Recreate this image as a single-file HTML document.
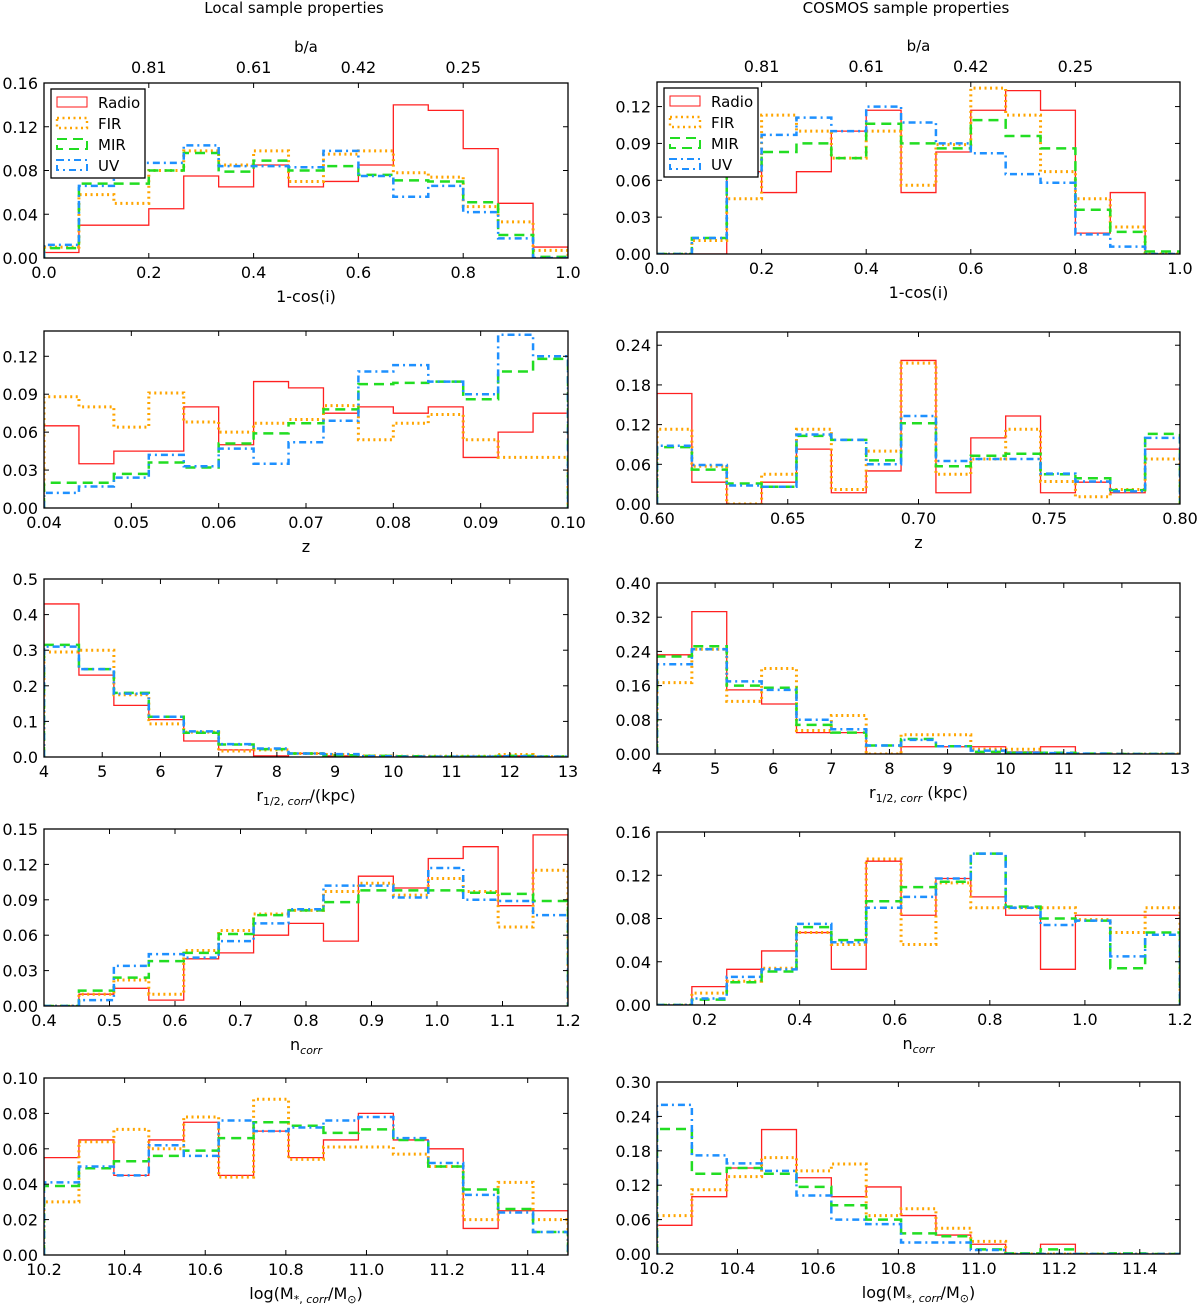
<!DOCTYPE html>
<html><head><meta charset="utf-8">
<style>
html,body{margin:0;padding:0;background:#fff;}
svg{display:block;font-family:"DejaVu Sans","Liberation Sans",sans-serif;}
</style></head>
<body>
<svg id="fig" width="1200" height="1305" viewBox="0 0 1200 1305" xmlns="http://www.w3.org/2000/svg">
<text x="294" y="13" font-size="15" text-anchor="middle">Local sample properties</text>
<text x="906" y="13" font-size="15" text-anchor="middle">COSMOS sample properties</text>
</svg>
<script>
// ---- data (15 bins each) ----
const seriesNames = ["Radio","FIR","MIR","UV"];
// Row 1: 1-cos(i)
const incL_radio = [0.005,0.03,0.03,0.045,0.075,0.065,0.085,0.065,0.07,0.085,0.14,0.135,0.10,0.05,0.01];
const incL_fir   = [0.01,0.058,0.05,0.08,0.098,0.085,0.098,0.07,0.095,0.098,0.078,0.074,0.047,0.033,0.007];
const incL_mir   = [0.009,0.068,0.068,0.08,0.096,0.079,0.089,0.08,0.084,0.076,0.071,0.07,0.051,0.021,0.001];
const incL_uv    = [0.012,0.066,0.087,0.087,0.103,0.084,0.084,0.083,0.098,0.075,0.056,0.066,0.042,0.018,0.0];
const incR_radio = [0,0,0.067,0.05,0.067,0.1,0.117,0.05,0.083,0.117,0.133,0.117,0.017,0.05,0];
const incR_fir   = [0,0.011,0.045,0.113,0.1,0.078,0.1,0.056,0.089,0.135,0.113,0.067,0.045,0.022,0];
const incR_mir   = [0,0.013,0.072,0.083,0.09,0.078,0.106,0.09,0.086,0.109,0.096,0.086,0.036,0.018,0.002];
const incR_uv    = [0,0.013,0.066,0.097,0.111,0.1,0.12,0.107,0.09,0.082,0.065,0.058,0.016,0.006,0.0];
// Row 2: z
const zL_radio = [0.065,0.035,0.045,0.045,0.08,0.05,0.1,0.095,0.075,0.08,0.075,0.08,0.04,0.06,0.075];
const zL_fir   = [0.088,0.08,0.064,0.091,0.068,0.06,0.067,0.07,0.081,0.054,0.067,0.074,0.054,0.04,0.04];
const zL_mir   = [0.02,0.02,0.027,0.036,0.032,0.051,0.059,0.067,0.078,0.098,0.099,0.1,0.086,0.108,0.118];
const zL_uv    = [0.012,0.017,0.024,0.042,0.033,0.047,0.035,0.052,0.069,0.108,0.113,0.1,0.09,0.137,0.12];
const zR_radio = [0.167,0.033,0,0.033,0.083,0.017,0.05,0.217,0.017,0.1,0.133,0.017,0.033,0.017,0.083];
const zR_fir   = [0.113,0.057,0,0.045,0.113,0.022,0.08,0.213,0.045,0.068,0.113,0.034,0.011,0.022,0.068];
const zR_mir   = [0.086,0.052,0.031,0.026,0.103,0.097,0.066,0.122,0.057,0.073,0.076,0.045,0.039,0.021,0.106];
const zR_uv    = [0.088,0.059,0.028,0.026,0.105,0.097,0.06,0.133,0.065,0.068,0.068,0.046,0.034,0.019,0.1];
// Row 3: r_1/2
const rL_radio = [0.43,0.23,0.145,0.105,0.045,0.02,0.003,0.01,0.003,0,0,0,0,0.003,0];
const rL_fir   = [0.295,0.3,0.175,0.093,0.07,0.017,0.02,0.01,0.007,0.003,0.002,0.002,0.002,0.007,0.001];
const rL_mir   = [0.315,0.247,0.18,0.113,0.068,0.035,0.022,0.01,0.005,0.003,0.002,0.001,0.001,0.003,0.001];
const rL_uv    = [0.31,0.247,0.178,0.113,0.072,0.036,0.024,0.01,0.008,0.002,0.001,0.001,0.001,0.002,0.001];
const rR_radio = [0.232,0.333,0.15,0.117,0.05,0.05,0,0.017,0.017,0.017,0.005,0.017,0,0,0];
const rR_fir   = [0.167,0.245,0.123,0.2,0.055,0.09,0,0.045,0.045,0.011,0.011,0,0,0,0];
const rR_mir   = [0.228,0.252,0.16,0.155,0.068,0.05,0.02,0.035,0.018,0.005,0.003,0.003,0.001,0,0];
const rR_uv    = [0.21,0.245,0.17,0.15,0.08,0.058,0.02,0.033,0.018,0.008,0.003,0.002,0.001,0,0];
// Row 4: n_corr
const nL_radio = [0,0.01,0.015,0.005,0.04,0.045,0.06,0.07,0.055,0.11,0.1,0.125,0.135,0.085,0.145];
const nL_fir   = [0,0.01,0.022,0.01,0.047,0.064,0.078,0.081,0.097,0.104,0.094,0.108,0.097,0.067,0.115];
const nL_mir   = [0,0.013,0.024,0.038,0.045,0.061,0.077,0.081,0.088,0.098,0.098,0.098,0.096,0.095,0.089];
const nL_uv    = [0,0.005,0.034,0.044,0.041,0.055,0.07,0.082,0.102,0.102,0.092,0.117,0.09,0.089,0.077];
const nR_radio = [0,0.017,0.033,0.05,0.067,0.033,0.133,0.083,0.117,0.1,0.083,0.033,0.083,0.083,0.083];
const nR_fir   = [0,0.011,0.022,0.034,0.067,0.056,0.135,0.056,0.113,0.09,0.09,0.09,0.079,0.067,0.09];
const nR_mir   = [0,0.005,0.021,0.031,0.072,0.06,0.096,0.109,0.114,0.14,0.091,0.08,0.078,0.034,0.067];
const nR_uv    = [0,0.006,0.026,0.033,0.075,0.058,0.09,0.1,0.117,0.14,0.09,0.074,0.078,0.045,0.065];
// Row 5: log M*
const mL_radio = [0.055,0.065,0.045,0.065,0.075,0.045,0.07,0.055,0.065,0.08,0.065,0.06,0.015,0.025,0.025];
const mL_fir   = [0.03,0.064,0.071,0.06,0.078,0.044,0.088,0.054,0.061,0.061,0.057,0.05,0.02,0.041,0.02];
const mL_mir   = [0.039,0.049,0.053,0.056,0.059,0.066,0.075,0.073,0.069,0.071,0.065,0.05,0.037,0.026,0.013];
const mL_uv    = [0.041,0.05,0.045,0.062,0.056,0.076,0.07,0.072,0.076,0.078,0.066,0.052,0.034,0.024,0.013];
const mR_radio = [0.05,0.1,0.15,0.217,0.133,0.1,0.117,0.067,0.033,0.017,0,0.017,0,0,0];
const mR_fir   = [0.067,0.112,0.135,0.168,0.145,0.157,0.067,0.079,0.045,0.022,0,0,0,0,0];
const mR_mir   = [0.218,0.14,0.15,0.14,0.117,0.085,0.06,0.036,0.031,0.008,0.001,0.008,0,0.001,0];
const mR_uv    = [0.26,0.172,0.158,0.145,0.102,0.06,0.052,0.02,0.02,0.007,0,0,0,0,0];
// tick labels
const topTickLabels = ["0.81","0.61","0.42","0.25"];
const topTickPos = [0.2,0.4,0.6,0.8];

const NS="http://www.w3.org/2000/svg";
const svg=document.getElementById('fig');
const styles=[
 {c:"#ff2020",w:1.3,d:"none"},
 {c:"#ffa500",w:3,d:"2,3.5"},
 {c:"#22dd22",w:2.5,d:"10,6"},
 {c:"#1e90ff",w:2.5,d:"7,4,2,4"}
];
function mk(tag,attrs,parent){const e=document.createElementNS(NS,tag);for(const k in attrs)e.setAttribute(k,attrs[k]);(parent||svg).appendChild(e);return e;}

const panels=[
 {id:"inclination-local",L:44,R:568,T:83,B:258,x0:0,x1:1,y1:0.16,ys:0.04,yd:2,xt:[0,0.2,0.4,0.6,0.8,1.0],xd:1,data:[incL_radio,incL_fir,incL_mir,incL_uv],legend:true,top:true,xl:"inc"},
 {id:"inclination-cosmos",L:657,R:1180,T:82,B:254,x0:0,x1:1,y1:0.14,ys:0.03,yd:2,xt:[0,0.2,0.4,0.6,0.8,1.0],xd:1,data:[incR_radio,incR_fir,incR_mir,incR_uv],legend:true,top:true,xl:"inc"},
 {id:"redshift-local",L:44,R:568,T:331,B:508,x0:0.04,x1:0.10,y1:0.14,ys:0.03,yd:2,xt:[0.04,0.05,0.06,0.07,0.08,0.09,0.10],xd:2,data:[zL_radio,zL_fir,zL_mir,zL_uv],xl:"z"},
 {id:"redshift-cosmos",L:657,R:1180,T:332,B:504,x0:0.6,x1:0.8,y1:0.26,ys:0.06,yd:2,xt:[0.6,0.65,0.7,0.75,0.8],xd:2,data:[zR_radio,zR_fir,zR_mir,zR_uv],xl:"z"},
 {id:"radius-local",L:44,R:568,T:579,B:757,x0:4,x1:13,y1:0.5,ys:0.1,yd:1,xt:[4,5,6,7,8,9,10,11,12,13],xd:0,data:[rL_radio,rL_fir,rL_mir,rL_uv],xl:"rL"},
 {id:"radius-cosmos",L:657,R:1180,T:583,B:754,x0:4,x1:13,y1:0.4,ys:0.08,yd:2,xt:[4,5,6,7,8,9,10,11,12,13],xd:0,data:[rR_radio,rR_fir,rR_mir,rR_uv],xl:"rR"},
 {id:"sersic-local",L:44,R:568,T:829,B:1006,x0:0.4,x1:1.2,y1:0.15,ys:0.03,yd:2,xt:[0.4,0.5,0.6,0.7,0.8,0.9,1.0,1.1,1.2],xd:1,data:[nL_radio,nL_fir,nL_mir,nL_uv],xl:"n"},
 {id:"sersic-cosmos",L:657,R:1180,T:832,B:1005,x0:0.1,x1:1.2,y1:0.16,ys:0.04,yd:2,xt:[0.2,0.4,0.6,0.8,1.0,1.2],xd:1,data:[nR_radio,nR_fir,nR_mir,nR_uv],xl:"n"},
 {id:"mass-local",L:44,R:568,T:1078,B:1255,x0:10.2,x1:11.5,y1:0.10,ys:0.02,yd:2,xt:[10.2,10.4,10.6,10.8,11.0,11.2,11.4],xd:1,data:[mL_radio,mL_fir,mL_mir,mL_uv],xl:"m"},
 {id:"mass-cosmos",L:657,R:1180,T:1082,B:1254,x0:10.2,x1:11.5,y1:0.30,ys:0.06,yd:2,xt:[10.2,10.4,10.6,10.8,11.0,11.2,11.4],xd:1,data:[mR_radio,mR_fir,mR_mir,mR_uv],xl:"m"}
];

panels.forEach((p,pi)=>{
 const g=mk('g',{});
 
 
 const sx=v=>p.L+(v-p.x0)/(p.x1-p.x0)*(p.R-p.L);
 const sy=v=>p.B-v/p.y1*(p.B-p.T);
 const cid='clip'+pi;
 const cp=mk('clipPath',{id:cid},g);mk('rect',{x:p.L,y:p.T,width:p.R-p.L,height:p.B-p.T},cp);
 // series
 p.data.forEach((arr,si)=>{
  const n=arr.length,w=(p.x1-p.x0)/n;
  let d="M"+sx(p.x0)+","+sy(0);
  arr.forEach((v,i)=>{d+=" L"+sx(p.x0+i*w)+","+sy(v)+" L"+sx(p.x0+(i+1)*w)+","+sy(v);});
  d+=" L"+sx(p.x1)+","+sy(0);
  const s=styles[si];
  const path=mk('path',{d:d,fill:"none",stroke:s.c,"stroke-width":s.w,"stroke-dasharray":s.d,"clip-path":"url(#"+cid+")"},g);
  
  
 });
 // frame
 const fr=mk('rect',{x:p.L,y:p.T,width:p.R-p.L,height:p.B-p.T,fill:"none",stroke:"#000","stroke-width":1.3},g);
 
 
 // y ticks
 for(let v=0;v<=p.y1+1e-9;v+=p.ys){
  const y=sy(v);
  mk('line',{x1:p.L,x2:p.L+5,y1:y,y2:y,stroke:"#000","stroke-width":1},g);
  mk('line',{x1:p.R,x2:p.R-5,y1:y,y2:y,stroke:"#000","stroke-width":1},g);
  const t=mk('text',{x:p.L-6,y:y+6,"font-size":16,"text-anchor":"end"},g);
  t.textContent=v.toFixed(p.yd);
  
  
 }
 // x ticks
 p.xt.forEach(v=>{
  const x=sx(v);
  mk('line',{x1:x,x2:x,y1:p.B,y2:p.B-5,stroke:"#000","stroke-width":1},g);
  if(!p.top) mk('line',{x1:x,x2:x,y1:p.T,y2:p.T+5,stroke:"#000","stroke-width":1},g);
  const t=mk('text',{x:x,y:p.B+20,"font-size":16,"text-anchor":"middle"},g);
  t.textContent=v.toFixed(p.xd);
  
  
 });
 if(p.top){
  topTickPos.forEach((v,i)=>{
   const x=sx(v);
   mk('line',{x1:x,x2:x,y1:p.T,y2:p.T+5,stroke:"#000","stroke-width":1},g);
   const t=mk('text',{x:x,y:p.T-10,"font-size":16,"text-anchor":"middle"},g);
   t.textContent=topTickLabels[i];
   
   
  });
  const ba=mk('text',{x:(p.L+p.R)/2,y:p.T-31,"font-size":15,"text-anchor":"middle"},g);
  ba.textContent="b/a";
  
  
 }
 // x label
 const cx=(p.L+p.R)/2, ly=p.B+44;
 const xl=mk('text',{x:cx,y:ly,"font-size":16,"text-anchor":"middle"},g);
 
 
 const sub=(txt,it)=>'<tspan font-size="11" dy="4"'+(it?' font-style="italic"':'')+'>'+txt+'</tspan><tspan dy="-4"></tspan>';
 if(p.xl==="inc") xl.textContent="1-cos(i)";
 else if(p.xl==="z") xl.textContent="z";
 else if(p.xl==="rL") xl.innerHTML='r'+'<tspan font-size="11" dy="4">1/2, </tspan><tspan font-size="11" font-style="italic">corr</tspan><tspan dy="-4">/(kpc)</tspan>';
 else if(p.xl==="rR") xl.innerHTML='r'+'<tspan font-size="11" dy="4">1/2, </tspan><tspan font-size="11" font-style="italic">corr</tspan><tspan dy="-4"> (kpc)</tspan>';
 else if(p.xl==="n") xl.innerHTML='n'+'<tspan font-size="11" dy="4" font-style="italic">corr</tspan>';
 else if(p.xl==="m") xl.innerHTML='log(M'+'<tspan font-size="11" dy="4">*, </tspan><tspan font-size="11" font-style="italic">corr</tspan><tspan dy="-4">/M</tspan><tspan font-size="11" dy="4">⊙</tspan><tspan dy="-4">)</tspan>';
 // legend
 if(p.legend){
  const lg=mk('g',{},g);
  
  
  const lx=p.L+7, ly0=p.T+6;
  mk('rect',{x:lx,y:ly0,width:94,height:89,fill:"#fff",stroke:"#000","stroke-width":1.3},lg);
  seriesNames.forEach((nm,si)=>{
   const s=styles[si]; const yy=ly0+13+si*21;
   const e=mk('g',{},lg);
   
   
   mk('rect',{x:lx+6,y:yy-5,width:30,height:10,fill:"none",stroke:s.c,"stroke-width":s.w*0.8,"stroke-dasharray":s.d},e);
   const t=mk('text',{x:lx+47,y:yy+6,"font-size":15},e);
   t.textContent=nm;
  });
 }
});
</script>
</body></html>
